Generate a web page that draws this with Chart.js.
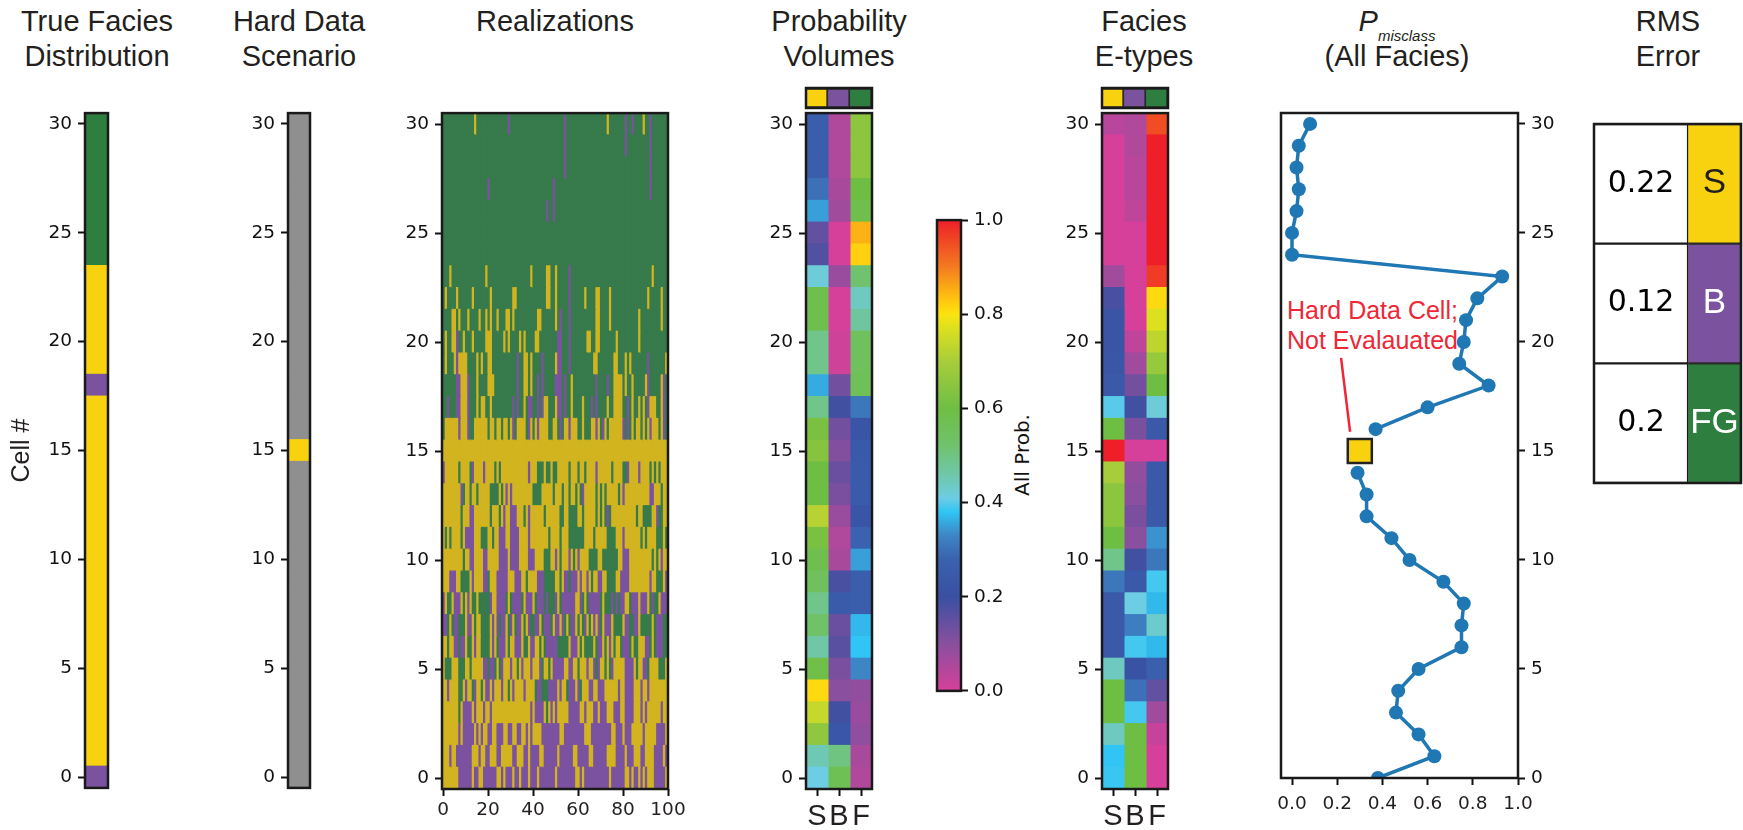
<!DOCTYPE html>
<html lang="en">
<head>
    <meta charset="UTF-8">
    <title>Facies Realizations Summary</title>
    <script src="https://cdn.jsdelivr.net/npm/chart.js"></script>
    <style>
        html, body {
            margin: 0;
            padding: 0;
            background: #fff;
            overflow: hidden;
        }
        #page {
            position: relative;
            width: 1743px;
            height: 830px;
        }
        #page canvas {
            position: absolute;
        }
        .title {
            position: absolute;
            top: 4px;
            width: 260px;
            text-align: center;
            font-family: "Liberation Sans", sans-serif;
            font-size: 29px;
            line-height: 35px;
            color: #231f20;
        }
        .title sub {
            font-size: 15px;
            font-style: italic;
            line-height: 0;
            position: relative;
            top: 3px;
        }
        #hardDataNote {
            position: absolute;
            left: 1287px;
            top: 295px;
            font-family: "Liberation Sans", sans-serif;
            font-size: 25px;
            line-height: 30px;
            color: #ee2737;
            white-space: nowrap;
        }
        #colorbarLabel {
            position: absolute;
            left: 962px;
            top: 443px;
            width: 120px;
            text-align: center;
            transform: rotate(-90deg);
            font-family: "DejaVu Sans", sans-serif;
            font-size: 20px;
            line-height: 24px;
            color: #111;
        }
    </style>
</head>
<body>
    <div id="page">
        <div class="title" style="left: -33px">True Facies<br>Distribution</div>
        <div class="title" style="left: 169px">Hard Data<br>Scenario</div>
        <div class="title" style="left: 425px">Realizations</div>
        <div class="title" style="left: 709px">Probability<br>Volumes</div>
        <div class="title" style="left: 1014px">Facies<br>E-types</div>
        <div class="title" style="left: 1267px"><i>P</i><sub>misclass</sub><br>(All Facies)</div>
        <div class="title" style="left: 1538px">RMS<br>Error</div>
        <div id="hardDataNote">Hard Data Cell;<br>Not Evalauated</div>
        <div id="colorbarLabel">All Prob.</div>
    </div>

    <script>
        // every list below runs from cell 30 (top) down to cell 0
        const cellNumbers = [30, 29, 28, 27, 26, 25, 24, 23, 22, 21, 20, 19, 18, 17, 16, 15, 14, 13, 12, 11, 10, 9, 8, 7, 6, 5, 4, 3, 2, 1, 0];
        const cellTicks = [0, 5, 10, 15, 20, 25, 30];
        const realizationTicks = [0, 20, 40, 60, 80, 100];
        const probTicks = [0, 0.2, 0.4, 0.6, 0.8, 1];
        const faciesLabels = ['S', 'B', 'F'];

        // S = sand, B = breccia, F = fine grain, N = no data
        const trueFacies = 'FFFFFFFSSSSSBSSSSSSSSSSSSSSSSSB';
        const hardData = 'NNNNNNNNNNNNNNNSNNNNNNNNNNNNNNN';

        const realizations = [
            'FFFFFFFFFF FFFFSFFFFF FFFFFFFFFB FFFFFFFFFF FFFFFFFFFF FFFFBFFFFF FFFFFFFFFF FFFSFFFFFF FBFFBFFFFS FFBFFFFFFF',
            'FFFFFFFFFF FFFFFFFFFF FFFFFFFFFF FFFFFFFFFF FFFFFFFFFF FFFFBFFFFF FFFFFFFFFF FFFFFFFFFF FBFFFFFFFF FFBFFFFFFF',
            'FFFFFFFFFF FFFFFFFFFF FFFFFFFFFF FFFFFFFFFF FFFFFFFFFF FFFFBFFFFF FFFFFFFFFF FFFFFFFFFF FFFFFFFFFF FFBFFFFFFF',
            'FFFFFFFFFF FFFFFFFFFF BFFFFFFFFF FFFFFFFFFF FFFFFFFFFB FFFFFFFFFF FFFFFFFFFF FFFFFFFFFF FFFFFFFFFF FFBFFFFFFF',
            'FFFFFFFFFF FFFFFFFFFF FFFFFFFFFF FFFFFFFFFF FFFFFFBFFB FFFFFFFFFF FFFFFFFFFF FFFFFFFFFF FFFFFFFFFF FFFFFFFFFF',
            'FFFFFFFFFF FFFFFFFFFF FFFFFFFFFF FFFFFFFFFF FFFFFFFFFF FFFFFFFFFF FFFFFFFFFF FFFFFFFFFF FFFFFFFFFF FFFFFFFFFF',
            'FFFFFFFFFF FFFFFFFFFF FFFFFFFFFF FFFFFFFFFF FFFFFFFFFF FFFFFFFFFF FFFFFFFFFF FFFFFFFFFF FFFFFFFFFF FFFFFFFFFF',
            'FFFSFFFFFF FFFFFFFFFS FFFFFFFFFF FFFFFFFFFS FFFFFFSSFF SFFFFFBFFF FFFFFFFFFF FFFFFFFFFF FFFFFFFFFF FFFSFFFFFF',
            'FSFFFFSFFF FFFSFFFFFF FSFFFFFFFF FSSFFFFFFF FFFFFFSSFF SFFFFFBFFF FFFSFFFFSS FFFFSFFFFF FFFFFFFFFF FSFFFFFSFF',
            'FFFFSSFSFF FSFFFFSFFS FSFFSFFFSS FSFFFFFFFF FFSSFFFFFF SFBFFFBFFF FFFFFFFFSS FFFFSFFFFF FFFFFFFSFF FFFFFFFSFF',
            'FSFFSSBFFS FFFSFFFFFS SSFFFFFSFS FFFFSFSFFF FSSFFFFFFF FBBFFFBFFF FFFFSSFFSS FFFFFFFSFF FFFFFFFSFF FFFFFFFFFF',
            'FSFFFSBSSS SFFFFSFSFF SSFFFFFFFF FFFBFFSSFS FFFFBFFFFF SBBFFFBFFF FFFFFFFSSF FFFFFFSSFF FSFSFFFFFF FBFFFFFFFS',
            'FFFFFFBBSS SBFFFSFFFF SSSFFFFFFF FFFBFFSSFS FFBFBFFFFF BBBFBFFSFF FFFFFFFFBF FFFBFFSSSS FSFFSFFFFF SBFFFFFSBF',
            'FFBFFFBBSS SBFFFSFSSF FSFFFFFFFF FBFBFFSFBB FFBFBSSFFF SBBFBFFSFF FFSFFFBFBF FFFSFFSSSS FFBFSFFSFS FBSSSFFSBF',
            'FSSSSSSBSS SBFFSSSSSS FSSFSSFSSF SBFSSSSFBS FSBSSSSFFS SFBFSSBSSS FFSFFFSSBS FBSFSSSSSS BFBFSFSSFS FSBSSSFSBF',
            'SSSSSSSSSS SSSSSSSSSS SSSSSSSSSS SSSSSSSSSS SSSSSSSSSS SSSSSSSSSS SSSSSSSSSS SSSSSSSSSS SSSSSSSSSS SSSSSSSSSS',
            'BSSSSSSFSS SSFBSSSSBS SSSFSFSSSS SSSSSSSSBS SSFFFSFFSF FSSSSSFSSS FSSFSSSSBS SSSSSFSSSS FFBSSSSBSS SSFSFSFSSS',
            'SSSSSSSSBF SSFSSFSSSS SFFFFSFSBS BSSSSSSSSS FFFFSSSSSF SSSFSSFSSF SFBSSSSSFS FSFSSSSSFS BSSSSSSSSS SSBBSSSFSS',
            'SSSSSSSSFS SSBBSSSSSS SFSSSFSBSS BBBSSSFSBS SSSSSFSSSS SSFFSSFFFF SSFSSSSSFS FSFBFSSSSS SSSSSSFSSF FFFSSBFFSS',
            'SFSFSSSSFS BBBBSSSFFF SSFSSBBBSS BBBBSSSSBS SSSSSSSFSS SSFSSSFFFF FFFSSSSFSS SSSFFFFSSS BSSSSSSSFS FSSSSFFFSF',
            'SSSSSSSSSF SSBBSSSSBB SSSSSBBBBS BBBBSSSSBB BSSSSFFFSS BSFSSSBSFS BSSSSFFFFS SFFFFFFFSS BBBSSSSSSS SSSFSFSBSS',
            'SSSBBBSSFF FFSBSSSSBB FSSSBBBBBS SSBBBSSFSS SSBBBFFFFF SSFSBBFBBB SBSSBSFSSB BSSFFFFSSB BBBSSSSSSS SSBSSFFFSB',
            'BSFFSBBBSF SBSFFSFFFF FBSSBBBBFS FBBBBFSBBB SFBBBFBFFF BSFBBBBBBS SBFSFBBBBB FSFFFBFBFB BSSFBBBSBB BSFBFFSBBB',
            'BBFSFBBFFF SBBSFSSFFF FSBSBFBBSF BSFBBSFSBF FBBSFBBBFS BBSBFSFBBS FSFBSFSBSB FSBBBSFFFF SBBFFBBSFF FFFSFBBBFF',
            'SSFSSBBFBB SFFSBSSFFF FSBSFBBBSF SSBBBSFFSB BSSFSFBBBB BFFFFFSBBB SFSFFFFSFB BSFSBSFSSF BBBFSFFSSS BBFSFBBBFF',
            'SFFFSSSFFF SSFSSSSSBB FBBFSFBSSS BSSFSBSSSB SSSBFSSFSB BBBBSSBBSS FSSSBSSBFB SSFSFBSSSS SBBBBSFSSB BFSSSSFFFS',
            'SSBSSSSFFS BSSFBSSFSB BSBSSSBSSF SBSSSSBSSS SFBBFFFBBB BSBSSFBBBS BFSSSBBSSB BBSSSSSSBS SBBBBSSSBS SBSSSSSSSS',
            'SSSSSSSFSB BBBSBSSSBS SBSSSSSSSS SSSSSSSSSB SBBBBSFSBS BSSSSSBBBB BSSBSSSBBS BBBSSSBBBS SBBBBSSSBS BSSSSSSBSS',
            'SSSSSSSBSB BBBBSBSBSS BBSSBBBSSB BSSBBSSBSB SSSSBBBBBB BBSSBBBBBB BBBSSSBBBB BBBBBSSBBB SBBBSSSSSB SSSSSBBBBS',
            'SSSBSSBBBB BBBSSSBSSB BSSSBBSSSS SBBSSSBBSB BBBSSBBBBB BSBBBBBBSS BBBBBSSBBB BBBSSSSBBB BSBBBSSSBB SSSSBBBBSB',
            'SSSSSSSBBB BBBSBBSSBB BBBBSSBSBB BSBBSBBBSB BBSBBBBBBB SBBBBBBBBS SBSBBBBBBB BBBBSBBBBB BSSBSBBSBS BSSSBBBBBS'
        ];

        const probS = [0.26, 0.26, 0.26, 0.3, 0.35, 0.15, 0.17, 0.42, 0.58, 0.58, 0.49, 0.49, 0.36, 0.49, 0.62, 0.64, 0.6, 0.6, 0.72, 0.62, 0.58, 0.55, 0.49, 0.53, 0.46, 0.59, 0.81, 0.74, 0.66, 0.45, 0.41];
        const probB = [0.05, 0.05, 0.05, 0.06, 0.07, 0, 0, 0.08, 0, 0, 0.01, 0.01, 0.13, 0.19, 0.13, 0.11, 0.14, 0.12, 0.08, 0.05, 0.06, 0.18, 0.25, 0.14, 0.16, 0.12, 0.1, 0.19, 0.23, 0.5, 0.57];
        const probF = [0.65, 0.65, 0.65, 0.6, 0.58, 0.85, 0.82, 0.52, 0.44, 0.47, 0.55, 0.55, 0.56, 0.31, 0.22, 0.24, 0.25, 0.25, 0.22, 0.28, 0.35, 0.26, 0.26, 0.37, 0.38, 0.33, 0.09, 0.08, 0.09, 0.06, 0.05];

        const etypeS = [0.04, 0, 0, 0, 0, 0, 0, 0.07, 0.18, 0.22, 0.22, 0.23, 0.24, 0.4, 0.6, 1, 0.7, 0.65, 0.65, 0.6, 0.49, 0.31, 0.24, 0.24, 0.24, 0.44, 0.6, 0.6, 0.44, 0.38, 0.385];
        const etypeB = [0.05, 0.05, 0.04, 0.04, 0.03, 0, 0, 0, 0, 0, 0.03, 0.07, 0.13, 0.19, 0.12, 0, 0.09, 0.1, 0.12, 0.1, 0.19, 0.24, 0.41, 0.32, 0.39, 0.21, 0.3, 0.39, 0.6, 0.6, 0.6];
        const etypeF = [0.95, 1, 1, 1, 1, 1, 1, 0.97, 0.81, 0.77, 0.73, 0.67, 0.6, 0.42, 0.24, 0, 0.24, 0.24, 0.24, 0.34, 0.31, 0.39, 0.37, 0.43, 0.37, 0.27, 0.15, 0.07, 0.02, 0, 0];

        const pMisclass = [0.08, 0.03, 0.02, 0.03, 0.02, 0, 0, 0.93, 0.82, 0.77, 0.76, 0.74, 0.87, 0.6, 0.37, null, 0.29, 0.33, 0.33, 0.44, 0.52, 0.67, 0.76, 0.75, 0.75, 0.56, 0.47, 0.46, 0.56, 0.63, 0.38];
        const hardDataX = [0.3];
        const hardDataCell = [15];
        const noteLineX = [0.217, 0.257];
        const noteLineCell = [19.27, 15.88];

        const rmsValues = ['0.22', '0.12', '0.2'];
        const rmsLabels = ['S', 'B', 'FG'];

        const faciesColors = { S: '#f8d20f', B: '#7b529e', F: '#2e7f3f', N: '#8f8f8f' };
        const realizationColors = { S: '#d1b41f', B: '#7b52a0', F: '#377a4b' };

        const colormap = [
            [0, 0xd6, 0x40, 0x9a], [0.1, 0x8a, 0x4f, 0x9e], [0.2, 0x3a, 0x50, 0xa2], [0.28, 0x3a, 0x62, 0xae],
            [0.33, 0x3e, 0x85, 0xc5], [0.38, 0x30, 0xc5, 0xf5], [0.41, 0x6d, 0xcd, 0xe3], [0.46, 0x6f, 0xc7, 0xa8],
            [0.52, 0x70, 0xc2, 0x6e], [0.6, 0x6f, 0xbe, 0x44], [0.7, 0xa8, 0xcd, 0x3a], [0.77, 0xdc, 0xe0, 0x1f],
            [0.8, 0xfb, 0xe4, 0x0f], [0.83, 0xff, 0xc6, 0x0f], [0.9, 0xf4, 0x7b, 0x20], [1, 0xee, 0x1f, 0x28]
        ];

        function probColor(v) {
            for (let i = 1; i < colormap.length; i++) {
                const a = colormap[i - 1];
                const b = colormap[i];
                if (v <= b[0]) {
                    const t = (v - a[0]) / (b[0] - a[0]);
                    return 'rgb(' + [1, 2, 3].map(k => Math.round(a[k] + (b[k] - a[k]) * t)).join(',') + ')';
                }
            }
            return 'rgb(238,31,40)';
        }

        const tickFont = { family: 'DejaVu Sans', size: 18.5 };
        const labelFont = { family: 'Liberation Sans', size: 29 };

        // black box around the plot area
        const framePlugin = {
            id: 'frame',
            afterDraw(chart) {
                const a = chart.chartArea;
                const ctx = chart.ctx;
                ctx.save();
                ctx.strokeStyle = '#1a1a1a';
                ctx.lineWidth = 2.5;
                ctx.strokeRect(a.left, a.top, a.right - a.left, a.bottom - a.top);
                ctx.restore();
            }
        };

        // text in the middle of each bar, for the RMS table
        const cellTextPlugin = {
            id: 'cellText',
            afterDatasetsDraw(chart) {
                const ctx = chart.ctx;
                chart.data.datasets.forEach((ds, i) => {
                    ctx.save();
                    ctx.font = ds.textFont;
                    ctx.textAlign = 'center';
                    ctx.textBaseline = 'middle';
                    chart.getDatasetMeta(i).data.forEach((bar, j) => {
                        const p = bar.getCenterPoint();
                        ctx.fillStyle = ds.textColors[j];
                        ctx.fillText(ds.texts[j], p.x, p.y);
                    });
                    ctx.restore();
                });
            }
        };

        // puts a canvas so that its plot area lands on the given box;
        // margin is the room around the box, axis the part of it the scales take
        function addChart(box, margin, axis, config) {
            const canvas = document.createElement('canvas');
            canvas.width = box.w + margin.l + margin.r;
            canvas.height = box.h + margin.t + margin.b;
            canvas.style.left = (box.x - margin.l) + 'px';
            canvas.style.top = (box.y - margin.t) + 'px';
            document.getElementById('page').appendChild(canvas);
            config.options = Object.assign({
                responsive: false,
                animation: false,
                layout: {
                    padding: {
                        left: margin.l - (axis.l || 0),
                        right: margin.r - (axis.r || 0),
                        top: margin.t,
                        bottom: margin.b - (axis.b || 0)
                    }
                },
                plugins: { legend: { display: false }, tooltip: { enabled: false } }
            }, config.options);
            config.plugins = (config.plugins || []).concat(framePlugin);
            return new Chart(canvas.getContext('2d'), config);
        }

        function axisGrid() {
            return {
                offset: false,
                drawOnChartArea: false,
                drawTicks: true,
                tickLength: 7,
                tickWidth: 2,
                tickColor: '#111'
            };
        }

        function yAxis(width, position, min, title) {
            return {
                type: 'linear',
                position: position,
                min: min,
                max: 30.5,
                offset: false,
                grid: axisGrid(),
                border: { display: false },
                title: title || { display: false },
                ticks: {
                    font: tickFont,
                    color: '#111',
                    padding: 6,
                    autoSkip: false,
                    callback: v => String(v)
                },
                afterBuildTicks: s => { s.ticks = cellTicks.map(v => ({ value: v })); },
                afterFit: s => { s.width = width; }
            };
        }

        function xAxis(min, max, tickValues, font, padding, height, format) {
            return {
                type: 'linear',
                position: 'bottom',
                min: min,
                max: max,
                offset: false,
                grid: axisGrid(),
                border: { display: false },
                ticks: {
                    font: font,
                    color: '#231f20',
                    padding: padding,
                    autoSkip: false,
                    maxRotation: 0,
                    callback: format
                },
                afterBuildTicks: s => { s.ticks = tickValues.map(v => ({ value: v })); },
                afterFit: s => { s.height = height; }
            };
        }

        // one dataset per column, one floating horizontal bar per cell
        function columnDatasets(count, colorAt) {
            const datasets = [];
            for (let c = 0; c < count; c++) {
                datasets.push({
                    data: cellNumbers.map(cell => ({ x: [c - 0.5, c + 0.5], y: cell })),
                    backgroundColor: cellNumbers.map((cell, row) => colorAt(row, c)),
                    borderWidth: 0,
                    inflateAmount: 0.5,
                    barPercentage: 1,
                    categoryPercentage: 1,
                    grouped: false
                });
            }
            return datasets;
        }

        function heatOptions(yScale, xScale) {
            return { indexAxis: 'y', scales: { y: yScale, x: xScale } };
        }

        function hiddenAxis(min, max, tickValues) {
            return {
                type: 'linear',
                display: false,
                min: min,
                max: max,
                offset: false,
                afterBuildTicks: s => { s.ticks = tickValues.map(v => ({ value: v })); }
            };
        }

        // True facies
        addChart({ x: 85, y: 112, w: 23, h: 677 }, { l: 85, r: 4, t: 16, b: 16 }, { l: 85 }, {
            type: 'bar',
            data: { datasets: columnDatasets(1, row => faciesColors[trueFacies[row]]) },
            options: heatOptions(yAxis(85, 'left', -0.5, {
                display: true,
                text: 'Cell #',
                font: { family: 'Liberation Sans', size: 25 },
                color: '#231f20',
                padding: { top: 7, bottom: 0 }
            }), hiddenAxis(-0.5, 0.5, [0]))
        });

        // Hard data
        addChart({ x: 288, y: 112, w: 22, h: 677 }, { l: 60, r: 4, t: 16, b: 16 }, { l: 60 }, {
            type: 'bar',
            data: { datasets: columnDatasets(1, row => faciesColors[hardData[row]]) },
            options: heatOptions(yAxis(60, 'left', -0.5), hiddenAxis(-0.5, 0.5, [0]))
        });

        // Realizations
        const realizationRows = realizations.map(r => r.replace(/ /g, ''));
        addChart({ x: 442, y: 112, w: 226, h: 677 }, { l: 60, r: 22, t: 16, b: 41 }, { l: 60, b: 41 }, {
            type: 'bar',
            data: { datasets: columnDatasets(100, (row, c) => realizationColors[realizationRows[row][c]]) },
            options: heatOptions(yAxis(60, 'left', -0.5), xAxis(-0.5, 100, realizationTicks, tickFont, 3, 41, v => String(v)))
        });

        // Probability volumes and E-types
        const probColumns = [probS, probB, probF];
        const etypeColumns = [etypeS, etypeB, etypeF];
        const faciesTicks = [0, 1, 2];

        addChart({ x: 806, y: 112, w: 66, h: 677 }, { l: 60, r: 10, t: 16, b: 41 }, { l: 60, b: 41 }, {
            type: 'bar',
            data: { datasets: columnDatasets(3, (row, c) => probColor(probColumns[c][row])) },
            options: heatOptions(yAxis(60, 'left', -0.5), xAxis(-0.5, 2.5, faciesTicks, labelFont, 4, 41, v => faciesLabels[v]))
        });
        addChart({ x: 1102, y: 112, w: 66, h: 677 }, { l: 60, r: 10, t: 16, b: 41 }, { l: 60, b: 41 }, {
            type: 'bar',
            data: { datasets: columnDatasets(3, (row, c) => probColor(etypeColumns[c][row])) },
            options: heatOptions(yAxis(60, 'left', -0.5), xAxis(-0.5, 2.5, faciesTicks, labelFont, 4, 41, v => faciesLabels[v]))
        });

        // facies colour strips above the two panels
        [806, 1102].forEach(left => {
            addChart({ x: left, y: 88, w: 66, h: 20 }, { l: 2, r: 2, t: 2, b: 2 }, {}, {
                type: 'bar',
                data: {
                    datasets: faciesLabels.map((f, c) => ({
                        data: [{ x: [c - 0.5, c + 0.5], y: 0 }],
                        backgroundColor: faciesColors[f],
                        borderColor: '#2b2b2b',
                        borderWidth: 2,
                        barPercentage: 1,
                        categoryPercentage: 1,
                        grouped: false
                    }))
                },
                options: {
                    indexAxis: 'y',
                    scales: { x: hiddenAxis(-0.5, 2.5, faciesTicks), y: hiddenAxis(-0.5, 0.5, [0]) }
                }
            });
        });

        // Colorbar
        addChart({ x: 937, y: 219, w: 24, h: 473 }, { l: 2, r: 60, t: 16, b: 16 }, { r: 60 }, {
            type: 'bar',
            data: {
                datasets: [{
                    data: [{ x: 0, y: [0, 1] }],
                    backgroundColor: ctx => {
                        const area = ctx.chart.chartArea;
                        if (!area) return '#888';
                        const g = ctx.chart.ctx.createLinearGradient(0, area.bottom, 0, area.top);
                        colormap.forEach(s => g.addColorStop(s[0], 'rgb(' + s[1] + ',' + s[2] + ',' + s[3] + ')'));
                        return g;
                    },
                    borderWidth: 0,
                    barPercentage: 1,
                    categoryPercentage: 1
                }]
            },
            options: {
                scales: {
                    x: hiddenAxis(-0.5, 0.5, [0]),
                    y: {
                        type: 'linear',
                        position: 'right',
                        min: 0,
                        max: 1,
                        grid: axisGrid(),
                        border: { display: false },
                        ticks: { font: tickFont, color: '#111', padding: 6, callback: v => v.toFixed(1) },
                        afterBuildTicks: s => { s.ticks = probTicks.map(v => ({ value: v })); },
                        afterFit: s => { s.width = 60; }
                    }
                }
            }
        });

        // P misclass
        addChart({ x: 1281, y: 113, w: 237, h: 665 }, { l: 20, r: 50, t: 24, b: 52 }, { r: 50, b: 52 }, {
            type: 'scatter',
            data: {
                datasets: [
                    {
                        data: cellNumbers.map((cell, i) => ({ x: pMisclass[i], y: cell })),
                        showLine: true,
                        spanGaps: false,
                        clip: 0,
                        borderColor: '#1f77b4',
                        borderWidth: 3.5,
                        pointRadius: 7,
                        pointBackgroundColor: '#1f77b4',
                        pointBorderWidth: 0
                    },
                    {
                        data: hardDataX.map((x, i) => ({ x: x, y: hardDataCell[i] })),
                        pointStyle: 'rect',
                        pointRadius: 17,
                        pointBackgroundColor: faciesColors.S,
                        pointBorderColor: '#222',
                        pointBorderWidth: 2.5
                    },
                    {
                        data: noteLineX.map((x, i) => ({ x: x, y: noteLineCell[i] })),
                        showLine: true,
                        borderColor: '#ee2737',
                        borderWidth: 2.5,
                        pointRadius: 0
                    }
                ]
            },
            options: {
                scales: {
                    x: xAxis(-0.0487, 1, probTicks, tickFont, 8, 52, v => v.toFixed(1)),
                    y: yAxis(50, 'right', 0)
                }
            }
        });

        // RMS table
        addChart({ x: 1594, y: 124, w: 147, h: 359 }, { l: 2, r: 2, t: 2, b: 2 }, {}, {
            type: 'bar',
            data: {
                datasets: [
                    {
                        data: rmsValues.map((v, i) => ({ x: [0, 0.64], y: 2 - i })),
                        backgroundColor: '#fff',
                        borderColor: '#1a1a1a',
                        borderWidth: 1.5,
                        barPercentage: 1,
                        categoryPercentage: 1,
                        grouped: false,
                        texts: rmsValues,
                        textColors: ['#000', '#000', '#000'],
                        textFont: '30px "DejaVu Sans"'
                    },
                    {
                        data: rmsLabels.map((v, i) => ({ x: [0.64, 1], y: 2 - i })),
                        backgroundColor: [faciesColors.S, faciesColors.B, faciesColors.F],
                        borderColor: '#2b2b2b',
                        borderWidth: 1.5,
                        barPercentage: 1,
                        categoryPercentage: 1,
                        grouped: false,
                        texts: rmsLabels,
                        textColors: ['#231f20', '#fff', '#fff'],
                        textFont: '35px "Liberation Sans"'
                    }
                ]
            },
            options: {
                indexAxis: 'y',
                scales: { x: hiddenAxis(0, 1, [0, 1]), y: hiddenAxis(-0.5, 2.5, [0, 1, 2]) }
            },
            plugins: [cellTextPlugin]
        });
    </script>
</body>
</html>
